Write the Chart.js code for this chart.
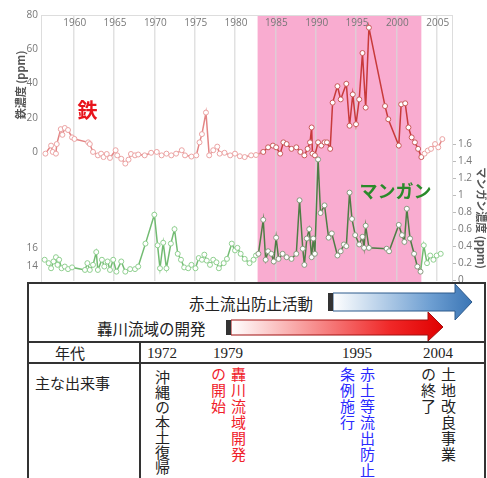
<!DOCTYPE html>
<html>
<head>
<meta charset="utf-8">
<script src="https://cdn.jsdelivr.net/npm/chart.js@4.4.1/dist/chart.umd.min.js"></script>
<style>
  html, body { margin: 0; padding: 0; background: #fff; }
  body { width: 487px; height: 478px; position: relative; overflow: hidden; font-family: 'Noto Sans CJK JP', sans-serif; color: #222; }
  #chartBox { position: absolute; left: 0; top: 0; width: 487px; height: 290px; }
  .box { position: absolute; left: 27px; top: 282px; width: 459px; height: 210px; box-sizing: border-box; border: 2px solid #333; background: #fff; }
  .hl { position: absolute; left: 27px; width: 459px; height: 2px; background: #333; }
  .vl { position: absolute; left: 139px; top: 342px; width: 2px; height: 140px; background: #333; }
  .t { position: absolute; font-size: 15px; line-height: 20px; white-space: nowrap; }
  .yr { position: absolute; top: 343px; width: 40px; text-align: center; font-family: 'Liberation Serif', serif; font-size: 15px; line-height: 20px; }
  .vt { position: absolute; writing-mode: vertical-rl; font-size: 15px; line-height: 20px; white-space: nowrap; letter-spacing: 1px; }
  svg { position: absolute; left: 0; top: 0; }
</style>
</head>
<body>
<div id="chartBox"><canvas id="chart" width="487" height="290"></canvas></div>

<div class="box"></div>
<div class="hl" style="top:341px"></div>
<div class="hl" style="top:362px"></div>
<div class="vl"></div>

<svg width="487" height="478">
  <defs>
    <linearGradient id="gBlue" x1="333" y1="0" x2="472" y2="0" gradientUnits="userSpaceOnUse">
      <stop offset="0" stop-color="#ffffff"/>
      <stop offset="0.7" stop-color="#6e9fd2"/>
      <stop offset="1" stop-color="#3a75b5"/>
    </linearGradient>
    <linearGradient id="gRed" x1="231" y1="0" x2="443" y2="0" gradientUnits="userSpaceOnUse">
      <stop offset="0" stop-color="#ffffff"/>
      <stop offset="0.75" stop-color="#f02828"/>
      <stop offset="1" stop-color="#e00000"/>
    </linearGradient>
  </defs>
  <polygon points="333,293 455,293 455,284 472,302 455,320 455,311 333,311" fill="url(#gBlue)" stroke="#2d5a8c" stroke-width="1"/>
  <rect x="328" y="293" width="5" height="18" fill="#333"/>
  <polygon points="231,320 428,320 428,312 443,327 428,341 428,335 231,335" fill="url(#gRed)" stroke="#a01010" stroke-width="1"/>
  <rect x="226" y="320" width="5" height="15" fill="#333"/>
</svg>

<div class="t" style="left:189px;top:293px;font-size:15.5px">赤土流出防止活動</div>
<div class="t" style="left:97px;top:318px;font-size:15.5px">轟川流域の開発</div>

<div class="t" style="left:55px;top:343px">年代</div>
<div class="yr" style="left:142px">1972</div>
<div class="yr" style="left:208px">1979</div>
<div class="yr" style="left:337px">1995</div>
<div class="yr" style="left:418px">2004</div>

<div class="t" style="left:35px;top:373px">主な出来事</div>
<div class="vt" style="left:152px;top:370px;letter-spacing:0">沖縄の本土復帰</div>
<div class="vt" style="left:208px;top:367px;color:#f0202a">轟川流域開発<br>の開始</div>
<div class="vt" style="left:337px;top:367px;color:#2a2aff">赤土等流出防止<br>条例施行</div>
<div class="vt" style="left:418px;top:367px">土地改良事業<br>の終了</div>

<script>
// tick labels
const yearTicks = [1960, 1965, 1970, 1975, 1980, 1985, 1990, 1995, 2000, 2005];
const ironTickValues = [80, 60, 40, 20, 0, -56.2, -66.7];
const ironTickLabels = ['80', '60', '40', '20', '0', '16', '14'];
const mnTickValues = [0, 0.2, 0.4, 0.6, 0.8, 1, 1.2, 1.4, 1.6];
const mnTickLabels = ['0', '0.2', '0.4', '0.6', '0.8', '1', '1.2', '1.4', '1.6'];

// shaded period
const bandStart = 1982.8;
const bandEnd = 2003.1;

// iron (ppm)
const ironYears = [1956.5, 1957.2, 1957.4, 1957.8, 1957.9, 1958.4, 1958.6, 1958.9, 1959.3, 1959.8,
  1960.1, 1961.8, 1962.0, 1962.4, 1963.0, 1963.4, 1963.7, 1964.1, 1964.5, 1965.2,
  1965.4, 1965.9, 1966.4, 1966.8, 1967.1, 1967.6, 1968.0, 1968.8, 1969.6, 1970.3,
  1970.9, 1971.5, 1972.1, 1972.7, 1973.4, 1973.8, 1974.6, 1975.2, 1975.6, 1975.9,
  1976.4, 1976.8, 1977.3, 1977.8, 1978.1, 1978.7, 1979.4, 1980.0, 1980.6, 1981.2,
  1982.0, 1982.6, 1983.5, 1984.1, 1984.7, 1985.1, 1985.6, 1986.0, 1986.4, 1987.0,
  1987.6, 1988.1, 1988.6, 1989.0, 1989.3, 1989.5, 1989.6, 1989.9, 1990.3, 1990.7,
  1991.1, 1991.4, 1991.8, 1992.1, 1992.7, 1993.1, 1993.8, 1994.2, 1994.6, 1995.0,
  1995.4, 1995.8, 1996.2, 1996.6, 1998.6, 1999.0, 2000.3, 2000.6, 2001.1, 2001.5,
  2001.9, 2002.3, 2002.7, 2003.1, 2003.5, 2003.9, 2004.3, 2004.8, 2005.2, 2005.7];
const ironValues = [-1, 3.7, 0, -1, 4.6, 13.3, 10, 14, 12.8, 8.5,
  7.6, 5.6, 4.6, 0, -2, -1, -3, -1.2, -3.5, 1,
  -2, -4, -6.8, -4.5, -1.2, -2, -1.5, -2, -0.5, 0,
  -2, -1, -2, -1, 1, -2, -2.7, -2, 5.6, 10.4,
  23, -2, 1, 3.1, -1, -0.5, -2, -1, -2.5, -3,
  -2, -1.8, 0, 2.7, 3.7, 2.7, -1, 5.6, 4.6, 1.8,
  2.7, 0, -2, 1.8, 5.6, 14.3, -1, -2, 5.6, 3.7,
  5.6, 5.6, 1.8, 28.8, 38.4, 30.7, 39.8, 15.3, 33.6, 16.2,
  30.7, 57.8, 25.9, 72.6, 26.8, 19.1, 3.7, 27.8, 28.4, 14.3,
  8.5, 5.6, 1.8, -3, -1, 0.8, 1.8, 4.6, 2.7, 7.5];

// manganese (ppm)
const mnYears = [1956.4, 1956.9, 1957.2, 1957.5, 1957.8, 1958.0, 1958.2, 1958.5, 1958.9, 1959.3,
  1959.8, 1961.4, 1961.7, 1962.0, 1962.4, 1962.8, 1963.0, 1963.5, 1963.8, 1964.2,
  1964.5, 1964.9, 1965.3, 1965.9, 1966.4, 1967.0, 1967.6, 1968.0, 1968.9, 1970.0,
  1970.4, 1970.7, 1971.1, 1971.5, 1972.05, 1972.5, 1972.9, 1973.3, 1973.7, 1974.2,
  1974.6, 1975.1, 1975.5, 1975.9, 1976.2, 1976.5, 1976.9, 1977.3, 1977.7, 1978.0,
  1978.6, 1979.0, 1979.6, 1980.0, 1980.3, 1980.7, 1981.2, 1981.8, 1982.3, 1982.6,
  1982.9, 1983.5, 1983.8, 1984.1, 1984.5, 1984.8, 1985.1, 1985.4, 1985.9, 1986.4,
  1987.0, 1987.6, 1988.0, 1988.4, 1988.6, 1988.9, 1989.2, 1989.5, 1989.7, 1989.9,
  1990.3, 1990.6, 1991.1, 1991.6, 1992.0, 1992.7, 1993.1, 1993.5, 1993.8, 1994.2,
  1994.5, 1994.9, 1995.4, 1995.8, 1996.0, 1996.2, 1996.6, 1998.8, 1999.1, 2000.3,
  2000.7, 2001.0, 2001.3, 2001.7, 2002.2, 2002.6, 2003.0, 2003.4, 2003.8, 2004.2,
  2004.6, 2005.0, 2005.5];
const mnValues = [0.24, 0.20, 0.14, 0.22, 0.27, 0.18, 0.24, 0.14, 0.16, 0.13,
  0.15, 0.12, 0.20, 0.12, 0.18, 0.33, 0.12, 0.24, 0.16, 0.22,
  0.12, 0.24, 0.10, 0.22, 0.10, 0.13, 0.13, 0.16, 0.43, 0.77,
  0.41, 0.14, 0.44, 0.14, 0.43, 0.60, 0.31, 0.24, 0.15, 0.14,
  0.18, 0.14, 0.26, 0.24, 0.30, 0.23, 0.18, 0.24, 0.21, 0.14,
  0.20, 0.25, 0.43, 0.35, 0.38, 0.31, 0.25, 0.20, 0.24, 0.29,
  0.31, 0.71, 0.24, 0.34, 0.31, 0.22, 0.50, 0.25, 0.31, 0.27,
  0.25, 0.31, 0.94, 0.37, 0.18, 0.49, 0.60, 0.27, 0.49, 0.31,
  1.42, 0.79, 0.88, 0.50, 0.55, 0.29, 0.34, 0.42, 0.40, 1.03,
  0.72, 0.53, 0.42, 0.51, 0.38, 0.64, 0.38, 0.37, 0.34, 0.65,
  0.53, 0.45, 0.84, 0.49, 0.31, 0.16, 0.10, 0.41, 0.20, 0.29,
  0.24, 0.29, 0.31];

const feLabelPos = [1961.7, 24.4];
const mnLabelPos = [1999.9, 1.05];

const inBand = (x) => x >= bandStart && x <= bandEnd;

Chart.defaults.font.family = "'Open Sans', 'Noto Sans CJK JP', sans-serif";

const overlay = {
  id: 'overlay',
  beforeDraw(chart) {
    const { ctx, chartArea, scales } = chart;
    const l = scales.x.getPixelForValue(bandStart);
    const r = scales.x.getPixelForValue(bandEnd);
    ctx.save();
    ctx.fillStyle = '#f9acd0';
    ctx.fillRect(l, chartArea.top, r - l, chartArea.bottom - chartArea.top + 7);
    ctx.restore();
  },
  beforeDatasetsDraw(chart) {
    // year labels sit inside the plot, just under the top border
    const { ctx, chartArea, scales } = chart;
    ctx.save();
    ctx.font = "10px 'Open Sans'";
    ctx.fillStyle = '#777';
    ctx.textAlign = 'center';
    ctx.textBaseline = 'middle';
    yearTicks.forEach((y) => {
      ctx.fillText(String(y), scales.x.getPixelForValue(y) + 1, chartArea.top + 8);
    });
    ctx.restore();
  },
  afterDraw(chart) {
    const { ctx, scales } = chart;
    ctx.save();
    ctx.textAlign = 'center';
    ctx.textBaseline = 'middle';
    ctx.font = "bold 20px 'Noto Sans CJK JP'";
    ctx.fillStyle = '#e8141c';
    ctx.fillText('鉄', scales.x.getPixelForValue(feLabelPos[0]), scales.yFe.getPixelForValue(feLabelPos[1]));
    ctx.font = "bold 18px 'Noto Sans CJK JP'";
    ctx.fillStyle = '#2a8a2a';
    ctx.fillText('マンガン', scales.x.getPixelForValue(mnLabelPos[0]), scales.yMn.getPixelForValue(mnLabelPos[1]));

    // axis titles
    ctx.font = "bold 11px 'Noto Sans CJK JP'";
    ctx.fillStyle = '#555';
    ctx.save();
    ctx.translate(21, 85);
    ctx.rotate(-Math.PI / 2);
    ctx.fillText('鉄濃度 (ppm)', 0, 0);
    ctx.restore();
    ctx.save();
    ctx.translate(481, 218);
    ctx.rotate(Math.PI / 2);
    ctx.fillText('マンガン濃度 (ppm)', 0, 0);
    ctx.restore();
    ctx.restore();
  }
};

new Chart(document.getElementById('chart'), {
  type: 'line',
  data: {
    datasets: [
      {
        label: '鉄',
        yAxisID: 'yFe',
        data: ironYears.map((x, i) => ({ x: x, y: ironValues[i] })),
        borderColor: '#e38585',
        borderWidth: 1.5,
        pointRadius: 2.5,
        pointBorderWidth: 1,
        pointBackgroundColor: '#fff',
        pointBorderColor: (c) => (c.raw && inBand(c.raw.x) ? '#c85a5a' : '#eba3a3'),
        segment: {
          borderColor: (c) => (inBand(c.p0.parsed.x) && inBand(c.p1.parsed.x) ? '#c83a3a' : '#e38585')
        }
      },
      {
        label: 'マンガン',
        yAxisID: 'yMn',
        data: mnYears.map((x, i) => ({ x: x, y: mnValues[i] })),
        borderColor: '#72bb72',
        borderWidth: 1.5,
        pointRadius: 2.5,
        pointBorderWidth: 1,
        pointBackgroundColor: '#fff',
        pointBorderColor: (c) => (c.raw && inBand(c.raw.x) ? '#8a9a80' : '#8fcf8f'),
        segment: {
          borderColor: (c) => (inBand(c.p0.parsed.x) && inBand(c.p1.parsed.x) ? '#4e7d45' : '#72bb72')
        }
      }
    ]
  },
  options: {
    responsive: false,
    animation: false,
    layout: { padding: { left: 0, right: 0, top: 0, bottom: 7 } },
    plugins: {
      legend: { display: false },
      tooltip: { enabled: false }
    },
    scales: {
      x: {
        type: 'linear',
        position: 'top',
        min: 1955.95,
        max: 2006.9,
        afterBuildTicks: (s) => { s.ticks = yearTicks.map((v) => ({ value: v })); },
        afterFit: (s) => { s.height = 15; },
        ticks: { display: false },
        grid: { color: 'rgba(215,215,215,0.75)', lineWidth: 1.5, drawTicks: false },
        border: { color: '#ddd' }
      },
      yFe: {
        type: 'linear',
        position: 'left',
        min: -75.4,
        max: 80,
        afterBuildTicks: (s) => { s.ticks = ironTickValues.map((v) => ({ value: v })); },
        afterFit: (s) => { s.width = 41; },
        ticks: {
          callback: (v, i) => ironTickLabels[i],
          color: '#777',
          font: { size: 10 },
          padding: 3
        },
        grid: { drawOnChartArea: false, drawTicks: false },
        border: { color: '#ddd' }
      },
      yMn: {
        type: 'linear',
        position: 'right',
        min: -0.01,
        max: 3.12,
        afterBuildTicks: (s) => { s.ticks = mnTickValues.map((v) => ({ value: v })); },
        afterFit: (s) => { s.width = 35; },
        ticks: {
          callback: (v, i) => mnTickLabels[i],
          color: '#777',
          font: { size: 10 },
          padding: 2
        },
        grid: { drawOnChartArea: false, drawTicks: true, tickLength: 4, color: '#bbb' },
        border: { color: '#ddd' }
      }
    }
  },
  plugins: [overlay]
});
</script>
</body>
</html>
